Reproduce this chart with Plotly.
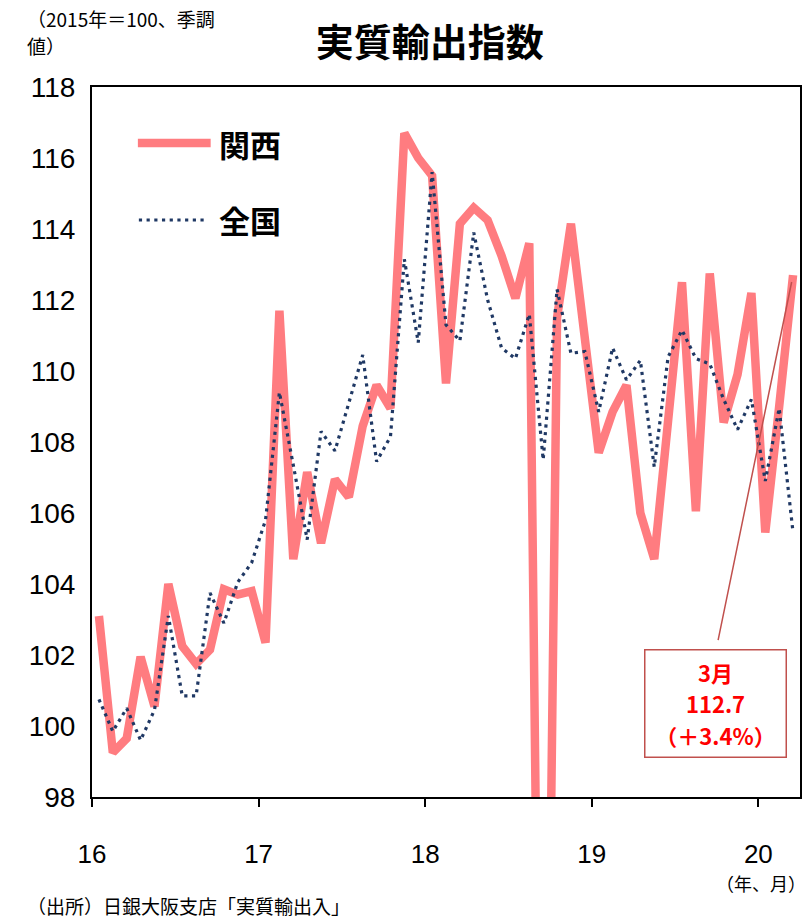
import plotly.graph_objects as go

# Monthly index, Jan 2016 – Mar 2020 (2015 = 100, seasonally adjusted)
months = [f"{y}-{m:02d}" for y in range(2016, 2021) for m in range(1, 13)][:51]

kansai = [
    103.1, 99.25, 99.65, 101.95, 100.55, 104.0, 102.25, 101.75, 102.15, 103.85, 103.7, 103.8,
    102.35, 111.7, 104.7, 107.15, 105.15, 106.95, 106.45, 108.45, 109.6, 108.95, 116.7, 116.0,
    115.5, 109.65, 114.15, 114.6, 114.25, 113.25, 112.05, 113.6, 79.0, 111.5, 114.15, 110.7,
    107.7, 108.85, 109.6, 106.0, 104.7, 108.6, 112.5, 106.05, 112.75, 108.55, 109.9, 112.2,
    105.45, 109.0, 112.7,
]

zenkoku = [
    100.75, 99.85, 100.5, 99.6, 100.45, 103.1, 100.85, 100.85, 103.75, 102.9, 104.05, 104.6,
    105.8, 109.4, 107.35, 105.25, 108.3, 107.75, 109.1, 110.45, 107.45, 108.15, 113.15, 110.8,
    115.6, 111.3, 110.85, 113.9, 112.0, 110.65, 110.35, 111.6, 107.5, 112.3, 110.5, 110.55,
    108.85, 110.65, 109.75, 110.3, 107.3, 110.4, 111.15, 110.35, 110.2, 109.2, 108.35, 109.2,
    106.9, 108.95, 105.45,
]

year_labels = ["16", "17", "18", "19", "20"]
year_starts = [months.index(f"20{y}-01") - 0.5 for y in year_labels]

last_label = "3月"
last_value = kansai[-1]
last_change = "＋3.4%"

RED = "#FF7C80"
NAVY = "#1F3864"
JP = "Noto Sans CJK JP"
NARROW = "Liberation Sans Narrow, Arial Narrow, Liberation Sans"
DOTS = "3.2px,4.5px"

x = list(range(len(months)))

fig = go.Figure()
fig.add_trace(go.Scatter(
    x=x, y=kansai, mode="lines", name="関西", customdata=months,
    line=dict(color=RED, width=8.5),
    hovertemplate="%{customdata}: %{y}<extra>関西</extra>",
))
fig.add_trace(go.Scatter(
    x=x, y=zenkoku, mode="lines", name="全国", customdata=months,
    line=dict(color=NAVY, width=3.2, dash=DOTS),
    hovertemplate="%{customdata}: %{y}<extra>全国</extra>",
))

# hand-placed legend
fig.add_shape(type="line", xref="paper", yref="paper", x0=0.0648, x1=0.1676, y0=0.9211, y1=0.9211,
              line=dict(color=RED, width=8.5))
fig.add_shape(type="line", xref="paper", yref="paper", x0=0.0662, x1=0.1634, y0=0.8127, y1=0.8127,
              line=dict(color=NAVY, width=3.2, dash=DOTS))
for txt, yy in (("関西", 0.9211), ("全国", 0.8127)):
    fig.add_annotation(xref="paper", yref="paper", x=0.176, y=yy, xanchor="left", yanchor="middle",
                       text=f"<b>{txt}</b>", showarrow=False,
                       font=dict(family=JP, size=31, color="black"))

# callout for the latest month
fig.add_annotation(x=x[-1], y=last_value, xref="x", yref="y", text=" ", showarrow=True,
                   arrowhead=0, arrowwidth=1.5, arrowcolor="#C0504D", ax=-77, ay=375, standoff=7)
fig.add_annotation(
    xref="paper", yref="paper", x=0.8803, y=0.131, xanchor="center", yanchor="middle",
    text=(f"<span style='font-size:22px'><b>{last_label}</b></span><br>"
          f"<span style='font-size:22px'><b>{last_value:.1f}</b></span><br>"
          f"<span style='font-size:22px'><b>（{last_change}）</b></span>"),
    showarrow=False, font=dict(family=JP, size=24, color="#FF0000"),
    bordercolor="#C0504D", borderwidth=1.5, borderpad=2, width=136, height=102,
    bgcolor="white",
)

# notes
note_font = dict(family=JP, size=19, color="black")
fig.add_annotation(xref="paper", yref="paper", x=-0.094, y=1.097, xanchor="left", yanchor="middle",
                   text="（2015年＝100、季調", showarrow=False, font=note_font)
fig.add_annotation(xref="paper", yref="paper", x=-0.094, y=1.059, xanchor="left", yanchor="middle",
                   text="値）", showarrow=False, font=note_font)
fig.add_annotation(xref="paper", yref="paper", x=1.012, y=-0.121, xanchor="right", yanchor="middle",
                   text="（年、月）", showarrow=False, font=dict(family=JP, size=18, color="black"))
fig.add_annotation(xref="paper", yref="paper", x=-0.094, y=-0.153, xanchor="left", yanchor="middle",
                   text="（出所）日銀大阪支店「実質輸出入」", showarrow=False, font=note_font)

fig.update_layout(
    width=808, height=918,
    margin=dict(l=92, r=6, t=87, b=121),
    paper_bgcolor="white", plot_bgcolor="white",
    showlegend=False,
    title=dict(text="<b>実質輸出指数</b>", x=0.532, xanchor="center", y=0.954, yanchor="middle",
               font=dict(family=JP, size=38, color="black")),
)
fig.update_xaxes(
    range=[-0.5, len(months) - 0.5], tickmode="array", tickvals=year_starts, ticktext=year_labels,
    ticks="outside", ticklen=8, tickwidth=2, tickcolor="black",
    showgrid=False, zeroline=False, showline=True, linecolor="black", linewidth=2, mirror=True,
    tickfont=dict(family=NARROW, size=26, color="black"), ticklabelstandoff=25,
)
fig.update_yaxes(
    range=[98, 118], dtick=2, tick0=98, ticks="",
    showgrid=False, zeroline=False, showline=True, linecolor="black", linewidth=2, mirror=True,
    tickfont=dict(family=NARROW, size=28, color="black"), ticklabelstandoff=9,
)

fig.write_html("out.html")
